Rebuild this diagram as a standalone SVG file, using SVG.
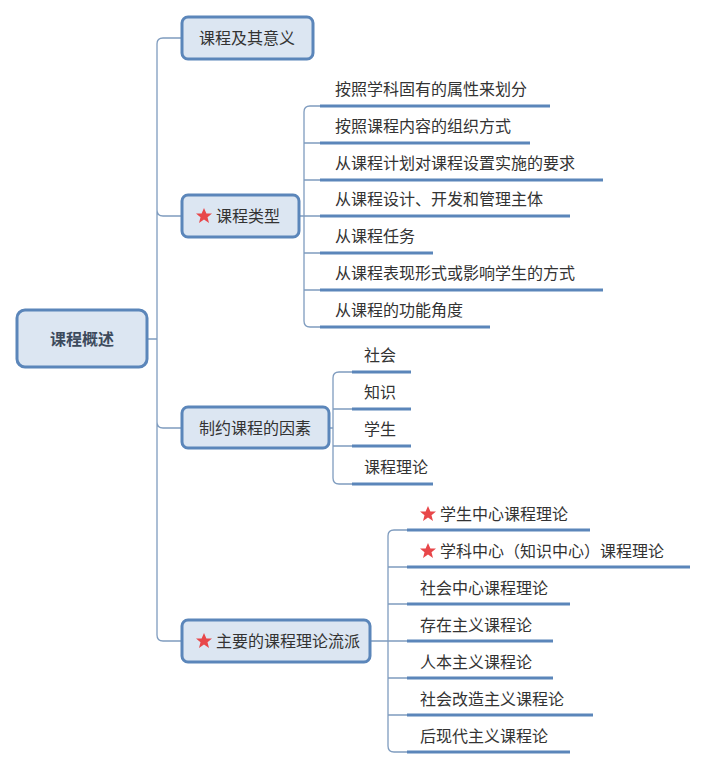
<svg xmlns="http://www.w3.org/2000/svg" width="720" height="769" viewBox="0 0 720 769">
<defs>
<style>
.n{fill:#dce6f2;stroke:#5b86ba;stroke-width:3}
.t{font-family:"Noto Sans CJK SC",sans-serif;font-size:16px;fill:#333}
.c{fill:none;stroke:#7f9cbf;stroke-width:1.3}
.u{stroke:#5b86ba;stroke-width:3}
.s{fill:#e8474a}
</style>
<polygon id="star" class="s" points="0,-8 2.4,-2.5 8,-2.5 3.5,1.2 5,7 0,3.6 -5,7 -3.5,1.2 -8,-2.5 -2.4,-2.5"/>
</defs>
<rect width="720" height="769" fill="#fff"/>
<g id="connectors">
<path class="c" d="M147 339H157M157 44Q157 38 163 38H182M157 210Q157 216 163 216H182M157 422Q157 428 163 428H182M157 635Q157 641 163 641H182M157 44V635"/>
<path class="c" d="M299 216H304M304 112V321"/>
<path class="c" d="M304 112Q304 106 310 106H320M304 143H320M304 180H320M304 216H320M304 253H320M304 290H320M304 321Q304 327 310 327H320"/>
<path class="u" d="M320 106H550M320 143H530M320 180H603M320 216H570M320 253H433M320 290H603M320 327H490"/>
<path class="c" d="M329 428H333M333 378V478M333 378Q333 372 339 372H352M333 409H352M333 446H352M333 478Q333 484 339 484H352"/>
<path class="u" d="M352 372H411M352 409H411M352 446H411M352 484H433"/>
<path class="c" d="M370 641H388M388 536V746M388 536Q388 530 394 530H407M388 567H407M388 604H407M388 641H407M388 678H407M388 715H407M388 746Q388 752 394 752H407"/>
<path class="u" d="M407 530H590M407 567H690M407 604H570M407 641H553M407 678H553M407 715H593M407 752H570"/>
</g>
<g id="root"><rect class="n" x="17" y="310" width="130" height="57" rx="8"/><text class="t" x="82" y="345" text-anchor="middle" style="font-weight:bold;fill:#3c4a5c">课程概述</text></g>
<g id="n1"><rect class="n" x="182" y="17" width="131" height="42" rx="6"/><text class="t" x="247" y="44" text-anchor="middle">课程及其意义</text></g>
<g id="n2"><rect class="n" x="182" y="195" width="117" height="42" rx="6"/><use href="#star" x="204" y="216"/><text class="t" x="216" y="222">课程类型</text></g>
<g id="n3"><rect class="n" x="182" y="407" width="147" height="41" rx="6"/><text class="t" x="255" y="434" text-anchor="middle">制约课程的因素</text></g>
<g id="n4"><rect class="n" x="182" y="620" width="188" height="42" rx="6"/><use href="#star" x="204" y="641"/><text class="t" x="216" y="647">主要的课程理论流派</text></g>
<g id="types">
<text class="t" x="335" y="95">按照学科固有的属性来划分</text>
<text class="t" x="335" y="132">按照课程内容的组织方式</text>
<text class="t" x="335" y="169">从课程计划对课程设置实施的要求</text>
<text class="t" x="335" y="205">从课程设计、开发和管理主体</text>
<text class="t" x="335" y="242">从课程任务</text>
<text class="t" x="335" y="279">从课程表现形式或影响学生的方式</text>
<text class="t" x="335" y="316">从课程的功能角度</text>
</g>
<g id="factors">
<text class="t" x="364" y="361">社会</text>
<text class="t" x="364" y="398">知识</text>
<text class="t" x="364" y="435">学生</text>
<text class="t" x="364" y="473">课程理论</text>
</g>
<g id="theories">
<use href="#star" x="428" y="514"/><text class="t" x="440" y="520">学生中心课程理论</text>
<use href="#star" x="428" y="551"/><text class="t" x="440" y="557">学科中心（知识中心）课程理论</text>
<text class="t" x="420" y="594">社会中心课程理论</text>
<text class="t" x="420" y="631">存在主义课程论</text>
<text class="t" x="420" y="668">人本主义课程论</text>
<text class="t" x="420" y="705">社会改造主义课程论</text>
<text class="t" x="420" y="742">后现代主义课程论</text>
</g>
</svg>
